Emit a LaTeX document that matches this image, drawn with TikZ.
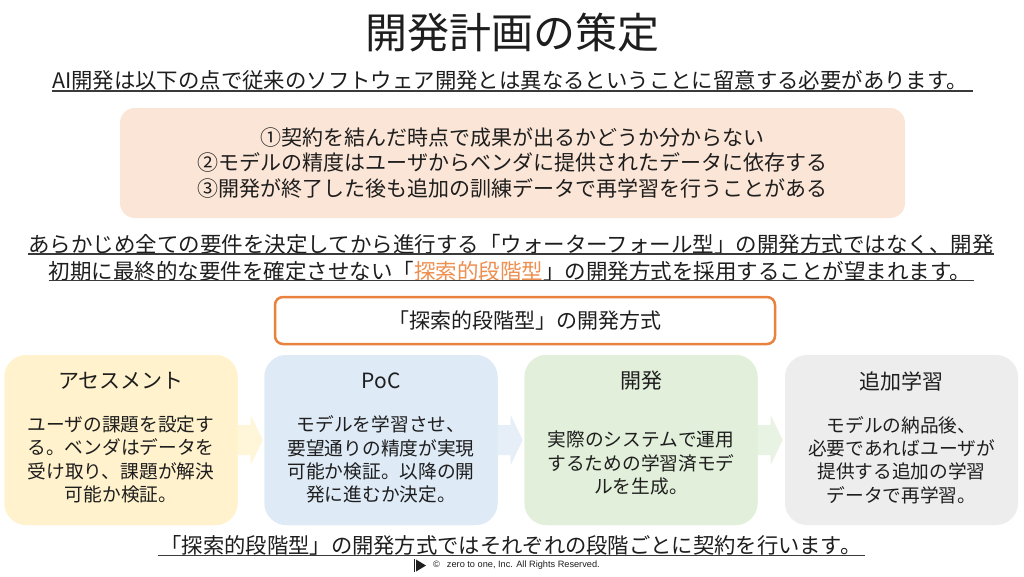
\documentclass[tikz,border=0pt]{standalone}
\usepackage{fontspec}
\setmainfont{Noto Sans CJK JP}
\newfontfamily\latinsans{Liberation Sans}
\definecolor{ink}{HTML}{1E1E1E}
\definecolor{ulgray}{HTML}{3A3A3A}
\definecolor{pinkbg}{HTML}{FBE5D6}
\definecolor{orangeln}{HTML}{E9813F}
\definecolor{orangetx}{HTML}{EE8F4F}
\definecolor{c1}{HTML}{FFF2CC}
\definecolor{c2}{HTML}{DEEAF6}
\definecolor{c3}{HTML}{E2EFDA}
\definecolor{c4}{HTML}{EDEDED}
\begin{document}
\begin{tikzpicture}[x=1pt,y=-1pt,
  txt/.style={inner sep=0pt, text=ink},
  uline/.style={draw=ulgray, line width=1.2pt},
  stage/.style={rounded corners=22pt, minimum width=233pt, minimum height=170pt, inner sep=0pt},
  stitle/.style={txt, font=\fontsize{21}{24}\selectfont},
  sbody/.style={txt, align=center, font=\fontsize{18.7}{23.3}\selectfont},
  linetext/.style={txt, font=\fontsize{21.5}{26}\selectfont}
]
\useasboundingbox (0,0) rectangle (1024,576);
\fill[white] (0,0) rectangle (1024,576);

% title
\node[txt, font=\fontsize{42}{48}\selectfont] (title) at (512,33) {開発計画の策定};

% header line
\node[txt, font=\fontsize{21.4}{25}\selectfont] (hdr) at (510,80) {AI開発は以下の点で従来のソフトウェア開発とは異なるということに留意する必要があります。};
\draw[uline] ([yshift=-11pt]hdr.west) -- ([yshift=-11pt,xshift=5pt]hdr.east);

% pink box
\node[fill=pinkbg, rounded corners=15pt, minimum width=785pt, minimum height=110pt, inner sep=0pt] (pink) at (512.5,163) {};
\node[txt, align=center, font=\fontsize{21}{25.5}\selectfont] (points) at (pink.center) {①契約を結んだ時点で成果が出るかどうか分からない\\②モデルの精度はユーザからベンダに提供されたデータに依存する\\③開発が終了した後も追加の訓練データで再学習を行うことがある};

% paragraph
\node[linetext] (p1) at (511,244) {あらかじめ全ての要件を決定してから進行する「ウォーターフォール型」の開発方式ではなく、開発};
\draw[uline] ([yshift=-10pt]p1.west) -- ([yshift=-10pt]p1.east);
\node[linetext] (p2) at (510,271) {初期に最終的な要件を確定させない「\textcolor{orangetx}{探索的段階型}」の開発方式を採用することが望まれます。};
\draw[uline] ([yshift=-9.5pt]p2.west) -- ([yshift=-9.5pt,xshift=3pt]p2.east);

% orange outlined box
\node[draw=orangeln, line width=2.5pt, rounded corners=8pt, minimum width=500pt, minimum height=47pt, inner sep=0pt, text=ink, font=\fontsize{21}{24}\selectfont] (ob) at (525,320.5) {「探索的段階型」の開発方式};

% stage boxes
\node[stage, fill=c1] (s1) at (121,440) {};
\node[stage, fill=c2] (s2) at (381,440) {};
\node[stage, fill=c3] (s3) at (641,440) {};
\node[stage, fill=c4] (s4) at (901.5,440) {};

% block arrows between stages
\fill[c1!75!white] ([shift={(-5,-15)}]s1.east) -- ++(18,0) -- ++(0,-10) -- ++(12,25) -- ++(-12,25) -- ++(0,-10) -- ++(-18,0) -- cycle;
\fill[c2!75!white] ([shift={(-5,-15)}]s2.east) -- ++(18,0) -- ++(0,-10) -- ++(12,25) -- ++(-12,25) -- ++(0,-10) -- ++(-18,0) -- cycle;
\fill[c3!75!white] ([shift={(-5,-15)}]s3.east) -- ++(18,0) -- ++(0,-10) -- ++(12,25) -- ++(-12,25) -- ++(0,-10) -- ++(-18,0) -- cycle;
\node[stage, fill=c1] at (s1.center) {};
\node[stage, fill=c2] at (s2.center) {};
\node[stage, fill=c3] at (s3.center) {};

% stage titles
\node[stitle] (t1) at (121,381) {アセスメント};
\node[stitle] (t2) at (381,381) {PoC};
\node[stitle] (t3) at (641,381) {開発};
\node[stitle] (t4) at (901.5,381) {追加学習};

% stage bodies
\node[sbody] (b1) at (121,459.5) {ユーザの課題を設定す\\る。ベンダはデータを\\受け取り、課題が解決\\可能か検証。};
\node[sbody] (b2) at (381,459.5) {モデルを学習させ、\\要望通りの精度が実現\\可能か検証。以降の開\\発に進むか決定。};
\node[sbody] (b3) at (641,463) {実際のシステムで運用\\するための学習済モデ\\ルを生成。};
\node[sbody] (b4) at (901.5,460) {モデルの納品後、\\必要であればユーザが\\提供する追加の学習\\データで再学習。};

% footer
\node[txt, font=\fontsize{21.3}{25}\selectfont] (ft) at (511,545) {「探索的段階型」の開発方式ではそれぞれの段階ごとに契約を行います。};
\draw[uline] ([yshift=-10.5pt,xshift=-2pt]ft.west) -- ([yshift=-10.5pt,xshift=3pt]ft.east);

% copyright
\node[txt, anchor=west, font=\latinsans\fontsize{9.2}{11}\selectfont] (cr) at (433,565.5) {©\hspace{7pt}zero to one, Inc. All Rights Reserved.};
\draw[ink, line width=0.8pt] (414,559) -- (414,572);
\fill[ink] (416,559.5) -- (426,565.5) -- (416,571.5) -- cycle;
\end{tikzpicture}
\end{document}
